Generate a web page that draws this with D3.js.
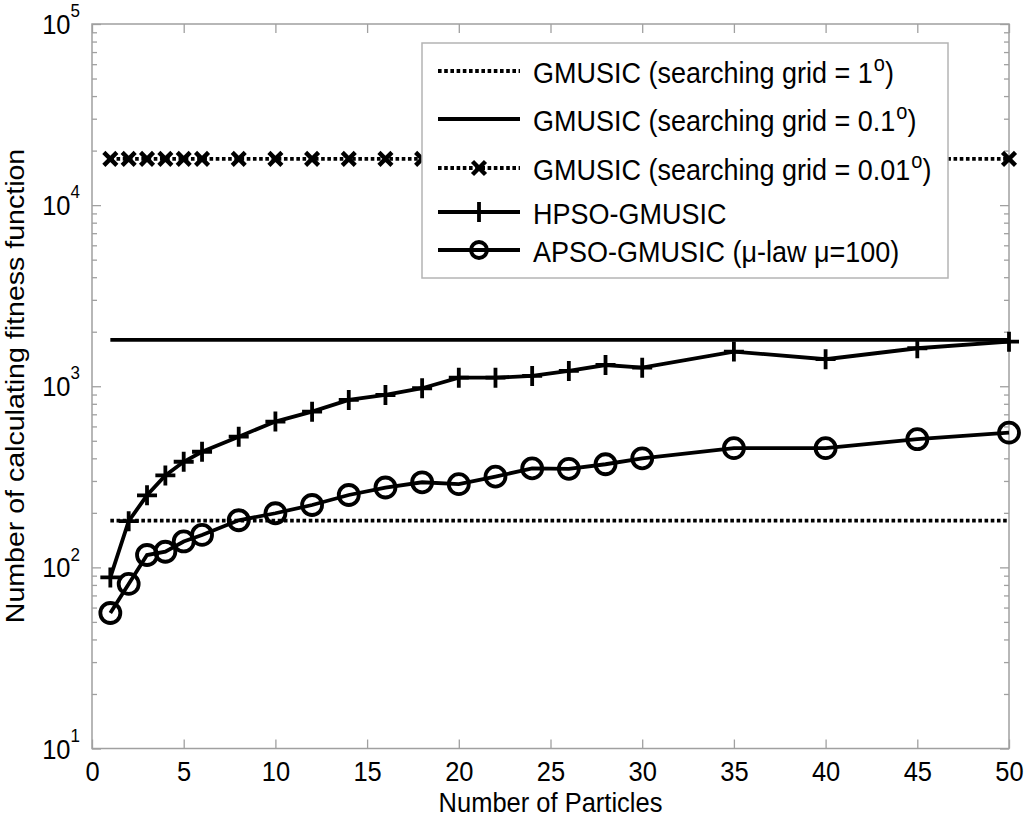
<!DOCTYPE html>
<html>
<head>
<meta charset="utf-8">
<script src="https://cdn.jsdelivr.net/npm/d3@7"></script>
<style>
  body { margin: 0; background: #fff; }
  text { font-family: "Liberation Sans", Arial, sans-serif; fill: #000; }
</style>
</head>
<body>
<div id="chart"></div>
<script>
// Number of particles (x values)
const particles = [1, 2, 3, 4, 5, 6, 8, 10, 12, 14, 16, 18, 20, 22, 24, 26, 28, 30, 35, 40, 45, 50];

// GMUSIC exhaustive search, independent of particle count
const gmusicGrid1 = [181, 181, 181, 181, 181, 181, 181, 181, 181, 181, 181, 181, 181, 181, 181, 181, 181, 181, 181, 181, 181, 181];
const gmusicGrid01 = [1801, 1801, 1801, 1801, 1801, 1801, 1801, 1801, 1801, 1801, 1801, 1801, 1801, 1801, 1801, 1801, 1801, 1801, 1801, 1801, 1801, 1801];
const gmusicGrid001 = [18001, 18001, 18001, 18001, 18001, 18001, 18001, 18001, 18001, 18001, 18001, 18001, 18001, 18001, 18001, 18001, 18001, 18001, 18001, 18001, 18001, 18001];

// PSO variants
const hpsoGmusic = [88, 180, 250, 322, 383, 435, 527, 638, 724, 840, 895, 975, 1115, 1115, 1140, 1215, 1310, 1267, 1553, 1410, 1621, 1763];
const apsoGmusic = [56, 81, 117, 122, 139, 151, 182, 199, 221, 251, 276, 295, 288, 317, 352, 350, 371, 400, 455, 455, 510, 554];

const xTicks = [0, 5, 10, 15, 20, 25, 30, 35, 40, 45, 50];
const yTicks = [10, 100, 1000, 10000, 100000];

const legendLabels = [
    ["GMUSIC (searching grid = 1", "o", ")"],
    ["GMUSIC (searching grid = 0.1", "o", ")"],
    ["GMUSIC (searching grid = 0.01", "o", ")"],
    ["HPSO-GMUSIC", "", ""],
    ["APSO-GMUSIC (\u03bc-law \u03bc=100)", "", ""]
];

const xLabel = "Number of Particles";
const yLabel = "Number of calculating fitness function";

var width = 1024, height = 817;
var margin = { top: 24, right: 15, bottom: 68.5, left: 92 };
var axisColor = "#a0a0a0";
var stretch = " scale(1,1.12)";   // the original figure text is a bit taller than wide

var svg = d3.select("#chart")
    .append("svg")
    .attr("width", width)
    .attr("height", height);

var x = d3.scaleLinear()
    .domain([0, 50])
    .range([margin.left, width - margin.right]);

var y = d3.scaleLog()
    .domain([10, 100000])
    .range([height - margin.bottom, margin.top]);

var x0 = x.range()[0], x1 = x.range()[1];
var yTop = y.range()[1], yBot = y.range()[0];

// minor ticks for log axis (2..9 of each decade)
var yMinor = y.ticks().filter(function (d) { return yTicks.indexOf(d) < 0; });

function styleAxis(g) {
    g.select(".domain").remove();
    g.selectAll(".tick line").attr("stroke", axisColor).attr("stroke-width", 1.3);
}

// bottom & top x ticks
svg.append("g")
    .attr("transform", "translate(0," + yBot + ")")
    .call(d3.axisBottom(x).tickValues(xTicks).tickSizeInner(-9).tickSizeOuter(0))
    .call(styleAxis)
    .selectAll("text")
    .attr("y", null)
    .attr("dy", null)
    .attr("transform", "translate(0,32)" + stretch)
    .attr("font-size", 25.5)
    .attr("font-family", "Liberation Sans, Arial, sans-serif");

svg.append("g")
    .attr("transform", "translate(0," + yTop + ")")
    .call(d3.axisTop(x).tickValues(xTicks).tickSizeInner(-9).tickSizeOuter(0).tickFormat(""))
    .call(styleAxis);

// left & right y ticks, major and minor
svg.append("g")
    .attr("transform", "translate(" + x0 + ",0)")
    .call(d3.axisLeft(y).tickValues(yTicks).tickSizeInner(-9).tickSizeOuter(0).tickFormat(""))
    .call(styleAxis);
svg.append("g")
    .attr("transform", "translate(" + x0 + ",0)")
    .call(d3.axisLeft(y).tickValues(yMinor).tickSizeInner(-5).tickSizeOuter(0).tickFormat(""))
    .call(styleAxis);
svg.append("g")
    .attr("transform", "translate(" + x1 + ",0)")
    .call(d3.axisRight(y).tickValues(yTicks).tickSizeInner(-9).tickSizeOuter(0).tickFormat(""))
    .call(styleAxis);
svg.append("g")
    .attr("transform", "translate(" + x1 + ",0)")
    .call(d3.axisRight(y).tickValues(yMinor).tickSizeInner(-5).tickSizeOuter(0).tickFormat(""))
    .call(styleAxis);

// y tick labels as 10 with exponent
var yLab = svg.append("g").selectAll("text")
    .data(yTicks)
    .enter()
    .append("text")
    .attr("transform", function (d) { return "translate(80," + (y(d) + 10) + ")" + stretch; })
    .attr("text-anchor", "end")
    .attr("font-size", 25.5);
yLab.append("tspan").text("10");
yLab.append("tspan")
    .attr("font-size", 17)
    .attr("dy", -15)
    .text(function (d) { return Math.round(Math.log10(d)); });

// plot box
svg.append("rect")
    .attr("x", x0)
    .attr("y", yTop)
    .attr("width", x1 - x0)
    .attr("height", yBot - yTop)
    .attr("fill", "none")
    .attr("stroke", axisColor)
    .attr("stroke-width", 1.5);

// axis labels
svg.append("text")
    .attr("transform", "translate(" + ((x0 + x1) / 2) + ",812)" + stretch)
    .attr("text-anchor", "middle")
    .attr("font-size", 25.5)
    .text(xLabel);

svg.append("text")
    .attr("transform", "translate(24,386)" + stretch + " rotate(-90)")
    .attr("text-anchor", "middle")
    .attr("font-size", 25.5)
    .text(yLabel);

// series
var line = d3.line()
    .x(function (d) { return x(d[0]); })
    .y(function (d) { return y(d[1]); });

function pairs(vals) {
    return particles.map(function (p, i) { return [p, vals[i]]; });
}

var series = [
    { values: gmusicGrid1, dash: "3.6,2.6", marker: null },
    { values: gmusicGrid01, dash: null, marker: null },
    { values: gmusicGrid001, dash: "3.6,2.6", marker: "cross" },
    { values: hpsoGmusic, dash: null, marker: "plus" },
    { values: apsoGmusic, dash: null, marker: "circle" }
];

var plus = "M-10,0H10M0,-10V10";
var cross = "M-6.5,-6.5L6.5,6.5M-6.5,6.5L6.5,-6.5";

function drawMarker(g, type, small) {
    if (type === "plus") {
        g.append("path").attr("d", plus).attr("stroke", "#000").attr("stroke-width", 3.8).attr("fill", "none");
    } else if (type === "cross") {
        g.append("path").attr("d", cross).attr("stroke", "#000").attr("stroke-width", 4.4).attr("fill", "none");
    } else if (type === "circle") {
        g.append("circle").attr("r", small ? 8 : 10).attr("stroke", "#000").attr("stroke-width", 3.8).attr("fill", "none");
    }
}

series.forEach(function (s) {
    svg.append("path")
        .datum(pairs(s.values))
        .attr("d", line)
        .attr("fill", "none")
        .attr("stroke", "#000")
        .attr("stroke-width", 3.8)
        .attr("stroke-dasharray", s.dash);

    if (s.marker) {
        svg.append("g").selectAll("g")
            .data(pairs(s.values))
            .enter()
            .append("g")
            .attr("transform", function (d) { return "translate(" + x(d[0]) + "," + y(d[1]) + ")"; })
            .each(function () { drawMarker(d3.select(this), s.marker, false); });
    }
});

// legend
var legendRowY = [71, 119, 168, 212, 250];
var legend = svg.append("g");
legend.append("rect")
    .attr("x", 422)
    .attr("y", 43)
    .attr("width", 526)
    .attr("height", 235)
    .attr("fill", "#fff")
    .attr("stroke", "#b4b4b4")
    .attr("stroke-width", 1.5);

series.forEach(function (s, i) {
    var row = legend.append("g").attr("transform", "translate(0," + legendRowY[i] + ")");
    row.append("line")
        .attr("x1", 438).attr("x2", 520)
        .attr("stroke", "#000")
        .attr("stroke-width", 3.8)
        .attr("stroke-dasharray", s.dash);
    if (s.marker) {
        drawMarker(row.append("g").attr("transform", "translate(479,0)"), s.marker, true);
    }
    var t = row.append("text")
        .attr("transform", "translate(533,12)" + stretch)
        .attr("font-size", 27);
    t.append("tspan").text(legendLabels[i][0]);
    if (legendLabels[i][1]) {
        t.append("tspan").attr("font-size", 20).attr("dy", -11).attr("dx", 1).text(legendLabels[i][1]);
        t.append("tspan").attr("dy", 11).text(legendLabels[i][2]);
    }
});
</script>
</body>
</html>
